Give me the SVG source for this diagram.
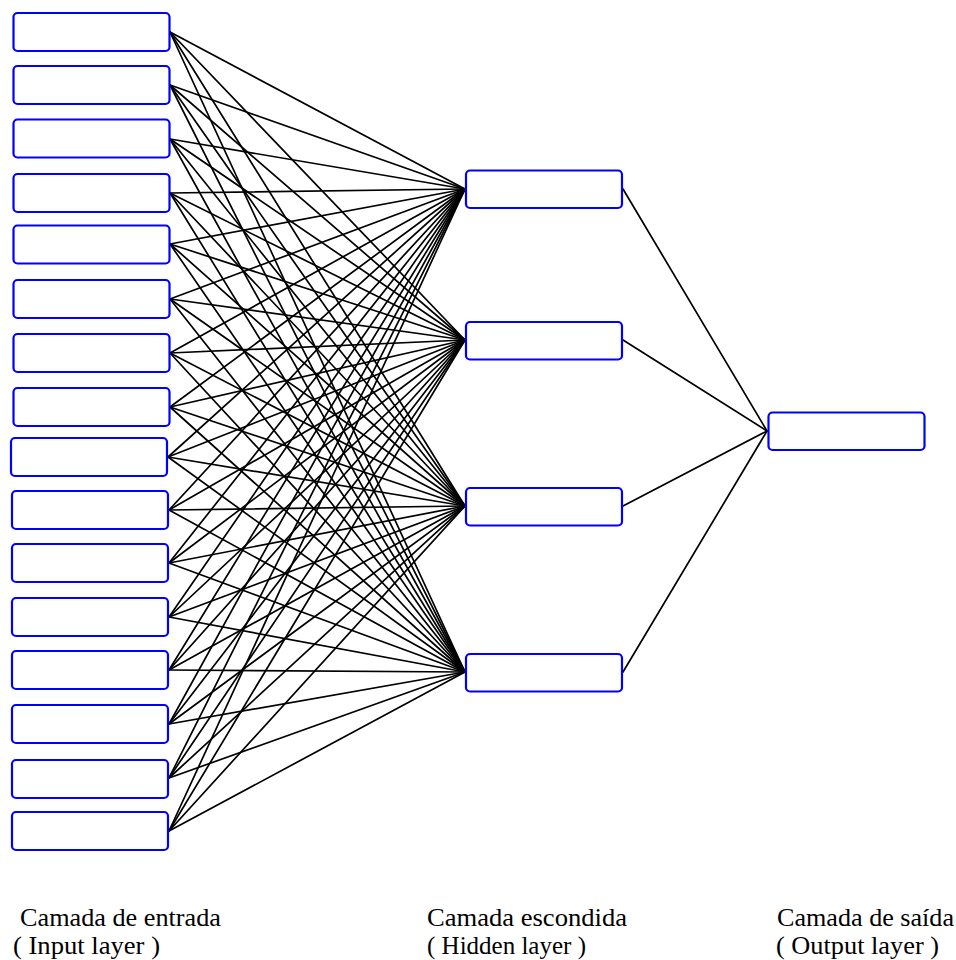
<svg xmlns="http://www.w3.org/2000/svg" width="956" height="960" viewBox="0 0 956 960">
  <style>
    .node rect { fill: #ffffff; stroke: #0000ff; stroke-width: 2.2; }
    .links line { stroke: #000000; stroke-width: 1.7; stroke-linecap: round; }
  </style>
  <rect width="956" height="960" fill="#ffffff"/>

  <!-- connectors: input layer -> hidden layer (fully connected), hidden -> output -->
  <g id="connectors" class="links">
    <!-- input 1 -->
    <line x1="170" y1="32" x2="465" y2="189"/><line x1="170" y1="32" x2="465" y2="340"/><line x1="170" y1="32" x2="465" y2="506"/><line x1="170" y1="32" x2="465" y2="672"/>
    <!-- input 2 -->
    <line x1="170" y1="85" x2="465" y2="189"/><line x1="170" y1="85" x2="465" y2="340"/><line x1="170" y1="85" x2="465" y2="506"/><line x1="170" y1="85" x2="465" y2="672"/>
    <!-- input 3 -->
    <line x1="170" y1="139" x2="465" y2="189"/><line x1="170" y1="139" x2="465" y2="340"/><line x1="170" y1="139" x2="465" y2="506"/><line x1="170" y1="139" x2="465" y2="672"/>
    <!-- input 4 -->
    <line x1="170" y1="193" x2="465" y2="189"/><line x1="170" y1="193" x2="465" y2="340"/><line x1="170" y1="193" x2="465" y2="506"/><line x1="170" y1="193" x2="465" y2="672"/>
    <!-- input 5 -->
    <line x1="170" y1="244" x2="465" y2="189"/><line x1="170" y1="244" x2="465" y2="340"/><line x1="170" y1="244" x2="465" y2="506"/><line x1="170" y1="244" x2="465" y2="672"/>
    <!-- input 6 -->
    <line x1="170" y1="299" x2="465" y2="189"/><line x1="170" y1="299" x2="465" y2="340"/><line x1="170" y1="299" x2="465" y2="506"/><line x1="170" y1="299" x2="465" y2="672"/>
    <!-- input 7 -->
    <line x1="170" y1="353" x2="465" y2="189"/><line x1="170" y1="353" x2="465" y2="340"/><line x1="170" y1="353" x2="465" y2="506"/><line x1="170" y1="353" x2="465" y2="672"/>
    <!-- input 8 -->
    <line x1="170" y1="407" x2="465" y2="189"/><line x1="170" y1="407" x2="465" y2="340"/><line x1="170" y1="407" x2="465" y2="506"/><line x1="170" y1="407" x2="465" y2="672"/>
    <!-- input 9 -->
    <line x1="168" y1="457" x2="465" y2="189"/><line x1="168" y1="457" x2="465" y2="340"/><line x1="168" y1="457" x2="465" y2="506"/><line x1="168" y1="457" x2="465" y2="672"/>
    <!-- input 10 -->
    <line x1="169" y1="510" x2="465" y2="189"/><line x1="169" y1="510" x2="465" y2="340"/><line x1="169" y1="510" x2="465" y2="506"/><line x1="169" y1="510" x2="465" y2="672"/>
    <!-- input 11 -->
    <line x1="169" y1="563" x2="465" y2="189"/><line x1="169" y1="563" x2="465" y2="340"/><line x1="169" y1="563" x2="465" y2="506"/><line x1="169" y1="563" x2="465" y2="672"/>
    <!-- input 12 -->
    <line x1="169" y1="617" x2="465" y2="189"/><line x1="169" y1="617" x2="465" y2="340"/><line x1="169" y1="617" x2="465" y2="506"/><line x1="169" y1="617" x2="465" y2="672"/>
    <!-- input 13 -->
    <line x1="169" y1="670" x2="465" y2="189"/><line x1="169" y1="670" x2="465" y2="340"/><line x1="169" y1="670" x2="465" y2="506"/><line x1="169" y1="670" x2="465" y2="672"/>
    <!-- input 14 -->
    <line x1="169" y1="724" x2="465" y2="189"/><line x1="169" y1="724" x2="465" y2="340"/><line x1="169" y1="724" x2="465" y2="506"/><line x1="169" y1="724" x2="465" y2="672"/>
    <!-- input 15 -->
    <line x1="169" y1="778" x2="465" y2="189"/><line x1="169" y1="778" x2="465" y2="340"/><line x1="169" y1="778" x2="465" y2="506"/><line x1="169" y1="778" x2="465" y2="672"/>
    <!-- input 16 -->
    <line x1="169" y1="831" x2="465" y2="189"/><line x1="169" y1="831" x2="465" y2="340"/><line x1="169" y1="831" x2="465" y2="506"/><line x1="169" y1="831" x2="465" y2="672"/>
    <!-- hidden -> output -->
    <line x1="623" y1="189" x2="767" y2="431"/>
    <line x1="623" y1="340" x2="767" y2="431"/>
    <line x1="623" y1="506" x2="767" y2="431"/>
    <line x1="623" y1="672" x2="767" y2="431"/>
  </g>

  <!-- input layer -->
  <g id="in1" class="node"><rect x="13.5" y="13" width="156" height="38" rx="4"/></g>
  <g id="in2" class="node"><rect x="13.5" y="66" width="156" height="38" rx="4"/></g>
  <g id="in3" class="node"><rect x="13.5" y="119.5" width="156" height="38" rx="4"/></g>
  <g id="in4" class="node"><rect x="13.5" y="174" width="156" height="38" rx="4"/></g>
  <g id="in5" class="node"><rect x="13.5" y="225.5" width="156" height="38" rx="4"/></g>
  <g id="in6" class="node"><rect x="13.5" y="280" width="156" height="38" rx="4"/></g>
  <g id="in7" class="node"><rect x="13.5" y="334" width="156" height="38" rx="4"/></g>
  <g id="in8" class="node"><rect x="13.5" y="388" width="156" height="38" rx="4"/></g>
  <g id="in9" class="node"><rect x="11" y="438" width="156" height="38" rx="4"/></g>
  <g id="in10" class="node"><rect x="12" y="491" width="156" height="38" rx="4"/></g>
  <g id="in11" class="node"><rect x="12" y="544" width="156" height="38" rx="4"/></g>
  <g id="in12" class="node"><rect x="12" y="598" width="156" height="38" rx="4"/></g>
  <g id="in13" class="node"><rect x="12" y="651" width="156" height="38" rx="4"/></g>
  <g id="in14" class="node"><rect x="12" y="705" width="156" height="38" rx="4"/></g>
  <g id="in15" class="node"><rect x="12" y="760" width="156" height="38" rx="4"/></g>
  <g id="in16" class="node"><rect x="12" y="812" width="156" height="38" rx="4"/></g>

  <!-- hidden layer -->
  <g id="hid1" class="node"><rect x="466" y="170.5" width="156" height="37.5" rx="4"/></g>
  <g id="hid2" class="node"><rect x="466" y="322" width="156" height="37.5" rx="4"/></g>
  <g id="hid3" class="node"><rect x="466" y="488" width="156" height="37.5" rx="4"/></g>
  <g id="hid4" class="node"><rect x="466" y="654" width="156" height="37.5" rx="4"/></g>

  <!-- output layer -->
  <g id="out1" class="node"><rect x="768.5" y="412.5" width="156" height="37.5" rx="4"/></g>

  <!-- layer captions -->
  <g id="captions" font-family="Liberation Serif, Times New Roman, Times, serif" font-size="25" fill="#000000">
    <g id="caption-input">
      <text x="20" y="926" textLength="201" lengthAdjust="spacingAndGlyphs">Camada de entrada</text>
      <text x="13" y="954" textLength="147" lengthAdjust="spacingAndGlyphs">( Input layer )</text>
    </g>
    <g id="caption-hidden">
      <text x="427" y="926" textLength="200" lengthAdjust="spacingAndGlyphs">Camada escondida</text>
      <text x="427" y="954">( Hidden layer )</text>
    </g>
    <g id="caption-output">
      <text x="777" y="926" textLength="177" lengthAdjust="spacingAndGlyphs">Camada de saída</text>
      <text x="776" y="954" textLength="163" lengthAdjust="spacingAndGlyphs">( Output layer )</text>
    </g>
  </g>
</svg>
